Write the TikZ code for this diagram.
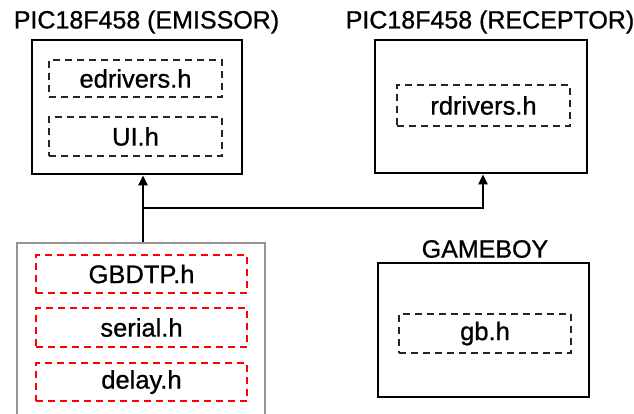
\documentclass[tikz,border=0pt]{standalone}
\usepackage{fontspec}
\setmainfont[FakeBold=0.8]{Liberation Sans}
\usetikzlibrary{arrows.meta}
\begin{document}
\begin{tikzpicture}[x=1pt,y=-1pt,
  title/.style={font=\fontsize{25}{30}\selectfont, inner sep=0pt},
  outerbox/.style={draw=black, line width=2.8pt, inner sep=0pt},
  graybox/.style={draw=gray!85, line width=2.4pt, inner sep=0pt},
  filebox/.style={draw=black!85, line width=2.2pt, dash pattern=on 7pt off 5pt, inner sep=0pt,
     font=\fontsize{25.5}{30}\selectfont},
  redbox/.style={filebox, draw=red},
  conn/.style={draw=black, line width=2.4pt},
  tip/.style={-{Triangle[length=10pt,width=9pt]}}
]
\useasboundingbox (0,0) rectangle (634,414);
\clip (0,0) rectangle (634,414);
\fill[white] (0,0) rectangle (634,414);

% titles
\node[title] (temi) at (146.5,22) {PIC18F458 (EMISSOR)};
\node[title] (trec) at (490,22) {PIC18F458 (RECEPTOR)};
\node[title] (tgb) at (485,249) {GAMEBOY};

% outer boxes
\node[outerbox, minimum width=210pt, minimum height=134pt] (emi) at (137,107) {};
\node[outerbox, minimum width=212pt, minimum height=133pt] (rec) at (481,106.5) {};
\node[outerbox, minimum width=211pt, minimum height=134pt] (gbox) at (483.5,330) {};
\node[graybox, minimum width=248pt, minimum height=200pt] (lib) at (141,343) {};

% file boxes
\node[filebox, minimum width=173pt, minimum height=37pt] (edr) at (135.5,78.5) {edrivers.h};
\node[filebox, minimum width=173pt, minimum height=39pt] (ui) at (135.5,136.5) {UI.h};
\node[filebox, minimum width=173pt, minimum height=41pt] (rdr) at (483.5,105.5) {rdrivers.h};
\node[filebox, minimum width=172pt, minimum height=39pt] (gbh) at (485,333.5) {gb.h};
\node[redbox, minimum width=211pt, minimum height=38pt] (gbdtp) at (141.5,274) {GBDTP.h};
\node[redbox, minimum width=211pt, minimum height=39pt] (ser) at (141.5,327.5) {serial.h};
\node[redbox, minimum width=211pt, minimum height=38pt] (del) at (141.5,382) {delay.h};

% connectors
\coordinate (j) at (143,208);
\coordinate (rj) at (483,208);
\draw[conn,tip] (lib.north -| j) -- (emi.south -| j);
\draw[conn,tip] (j) -- (rj) -- (rec.south -| rj);
\end{tikzpicture}
\end{document}
